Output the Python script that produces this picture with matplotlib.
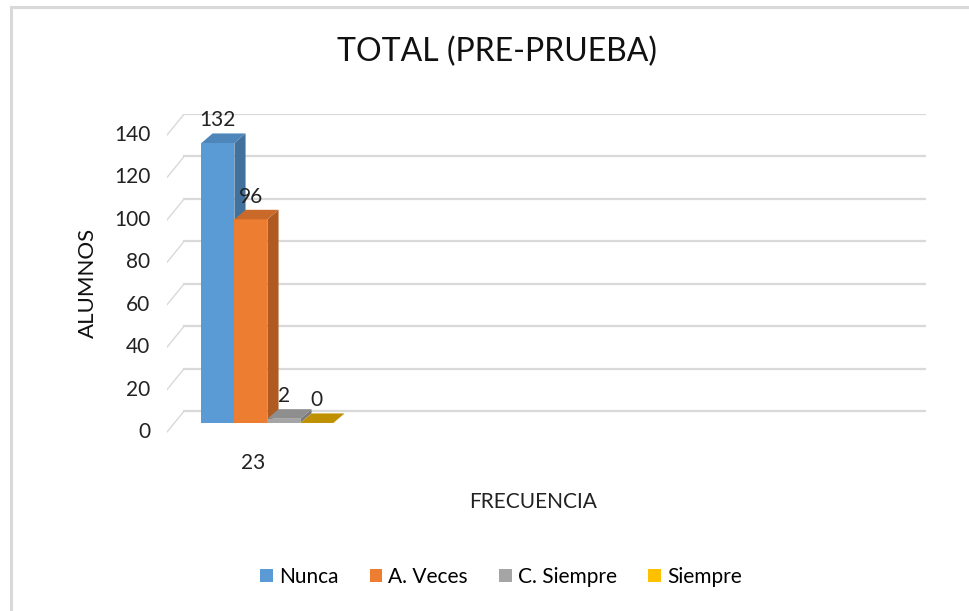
import matplotlib.pyplot as plt
from matplotlib.patches import Polygon
from matplotlib.lines import Line2D

# Data
categories = ['Nunca', 'A. Veces', 'C. Siempre', 'Siempre']
values = [132, 96, 2, 0]
group_label = '23'
yticks = [0, 20, 40, 60, 80, 100, 120, 140]
colors = ['#5B9BD5', '#ED7D31', '#A5A5A5', '#FFC000']
side_colors = ['#41719C', '#AE5A21', '#7C7C7C', '#BF9000']
top_colors = ['#4E86BA', '#C9692A', '#8E8E8E', '#D9A300']

plt.rcParams['font.family'] = ['Lato', 'DejaVu Sans']

W, H = 969, 611
fig = plt.figure(figsize=(W / 100, H / 100), dpi=100)

# fake 3D: depth vector (full floor depth) in data units
DX, DY = 0.52, 9.9
x_left, x_right = -2.82, 19.67
y_lo, y_hi = -5, 150

# axes placement in pixels (front plane mapping)
px_left, px_right = 167, 926
py_top = 432 - y_hi * 2.121
py_bot = 432 - y_lo * 2.121
ax = fig.add_axes([px_left / W, 1 - py_bot / H, (px_right - px_left) / W, (py_bot - py_top) / H])
ax.set_xlim(x_left, x_right + DX)
ax.set_ylim(y_lo, y_hi)
ax.axis('off')

grid_c = '#D9D9D9'
for v in yticks:
    ax.plot([x_left + DX, x_right + DX], [v + DY, v + DY], color=grid_c, lw=1.6, zorder=1)
    ax.plot([x_left, x_left + DX], [v, v + DY], color=grid_c, lw=1.0, zorder=1)
    ax.text(x_left - 0.5, v, str(v), ha='right', va='center', fontsize=15, color='#222222')

# bars
width = 1.0
d0, d1 = 0.43, 1.08
for i, (v, c, sc, tc) in enumerate(zip(values, colors, side_colors, top_colors)):
    x0 = -2 + i * width
    x1 = x0 + width
    fx0, fx1 = x0 + d0 * DX, x1 + d0 * DX
    by = d0 * DY
    ty = v + d0 * DY
    ox, oy = (d1 - d0) * DX, (d1 - d0) * DY * 0.7
    if v > 0:
        ax.add_patch(Polygon([(fx0, by), (fx1, by), (fx1, ty), (fx0, ty)], closed=True,
                             facecolor=c, edgecolor='none', zorder=3 + i))
        ax.add_patch(Polygon([(fx1, by), (fx1 + ox, by + oy), (fx1 + ox, ty + oy), (fx1, ty)],
                             closed=True, facecolor=sc, edgecolor='none', zorder=3 + i))
    ax.add_patch(Polygon([(fx0, ty), (fx1, ty), (fx1 + ox, ty + oy), (fx0 + ox, ty + oy)],
                         closed=True, facecolor=tc if v > 0 else sc, edgecolor='none', zorder=3 + i))
    ax.text((fx0 + fx1) / 2, ty + oy + 1.5, str(v), ha='center', va='bottom',
            fontsize=15, color='#222222', zorder=10)

ax.text(-0.2, -10, group_label, ha='center', va='top', fontsize=15, color='#222222')

fig.text(497 / W, 1 - 52 / H, 'TOTAL (PRE-PRUEBA)', ha='center', va='center', fontsize=23, color='#111111')
fig.text(533 / W, 1 - 502 / H, 'FRECUENCIA', ha='center', va='center', fontsize=15, color='#222222')
fig.text(88 / W, 1 - 283 / H, 'ALUMNOS', ha='center', va='center', rotation=90, fontsize=16, color='#111111')

handles = [Polygon([[0, 0]], closed=True, facecolor=c, edgecolor='none') for c in colors]
fig.legend(handles, categories, loc='center', bbox_to_anchor=(501 / W, 1 - 577 / H), ncol=4,
           frameon=False, fontsize=15, handlelength=0.6, handleheight=0.6, handletextpad=0.3,
           columnspacing=1.5)

# chart border (top and left visible)
fig.add_artist(Line2D([10.5 / W, 10.5 / W], [0, 1 - 7 / H], color='#D9D9D9', lw=2.2))
fig.add_artist(Line2D([10.5 / W, 1], [1 - 7 / H, 1 - 7 / H], color='#D9D9D9', lw=2.2))

fig.savefig('out.png', dpi=100)
